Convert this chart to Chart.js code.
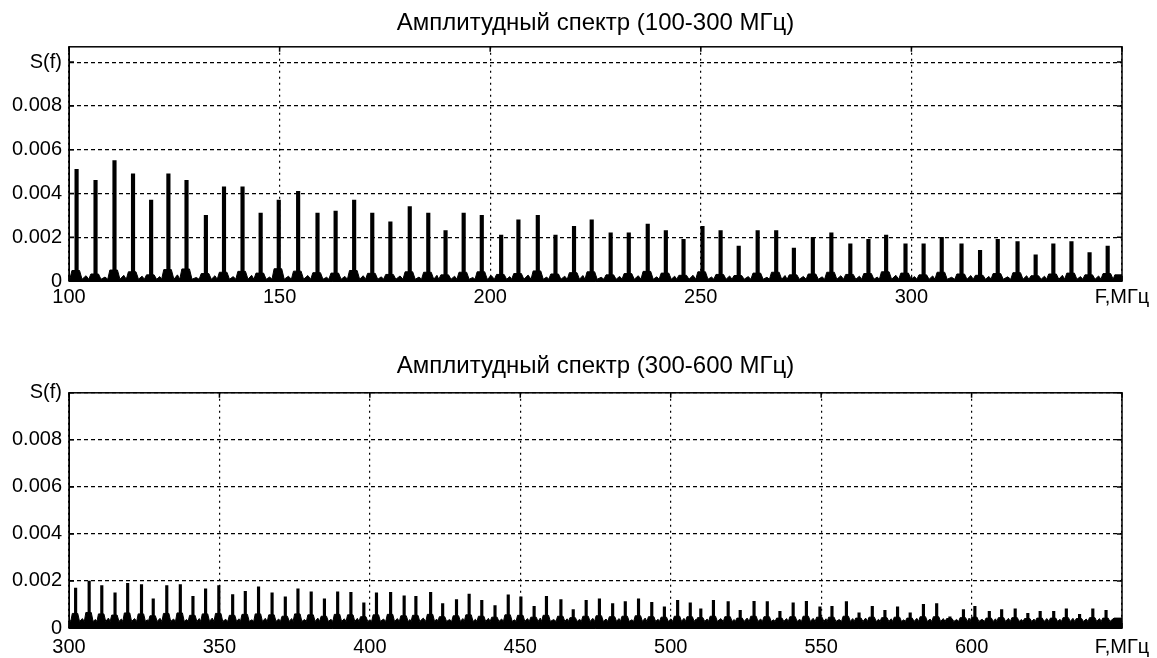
<!DOCTYPE html>
<html>
<head>
<meta charset="utf-8">
<script src="https://cdn.jsdelivr.net/npm/chart.js@4"></script>
<style>
    html, body { margin: 0; padding: 0; background: #fff; }
    .panel { position: absolute; left: 0; width: 1157px; }
    #panelTop { top: 0; height: 320px; }
    #panelBot { top: 320px; height: 338px; }
</style>
</head>
<body>
<div class="panel" id="panelTop"><canvas id="specTop"></canvas></div>
<div class="panel" id="panelBot"><canvas id="specBot"></canvas></div>
<script>
// ---- top panel: 100-350 MHz ----
const topFreq = [101.8, 106.3, 110.8, 115.2, 119.5, 123.6, 127.9, 132.5, 136.8, 141.2,
    145.5, 149.8, 154.4, 159.0, 163.3, 167.7, 172.0, 176.3, 180.9, 185.3,
    189.4, 193.7, 198.0, 202.6, 206.7, 211.3, 215.5, 219.9, 224.1, 228.6,
    232.9, 237.4, 241.7, 245.9, 250.4, 254.7, 259.0, 263.5, 267.9, 272.1,
    276.6, 281.0, 285.5, 289.8, 294.0, 298.6, 302.9, 307.2, 311.9, 316.3,
    320.5, 325.2, 329.5, 333.7, 338.0, 342.3, 346.6];
const topAmp = [0.0051, 0.0046, 0.0055, 0.0049, 0.0037, 0.0049, 0.0046, 0.0030, 0.0043, 0.0043,
    0.0031, 0.0037, 0.0041, 0.0031, 0.0032, 0.0037, 0.0031, 0.0027, 0.0034, 0.0031,
    0.0023, 0.0031, 0.0030, 0.0021, 0.0028, 0.0030, 0.0021, 0.0025, 0.0028, 0.0022,
    0.0022, 0.0026, 0.0023, 0.0019, 0.0025, 0.0023, 0.0016, 0.0023, 0.0023, 0.0015,
    0.0020, 0.0022, 0.0017, 0.0019, 0.0021, 0.0017, 0.0017, 0.0020, 0.0017, 0.0014,
    0.0019, 0.0018, 0.0012, 0.0017, 0.0018, 0.0013, 0.0016];
// noise bump at the foot of every line
const topBase = [0.00048, 0.00032, 0.0005, 0.00042, 0.00028, 0.00052, 0.00055, 0.00034, 0.0004, 0.00044,
    0.00036, 0.00056, 0.00045, 0.00038, 0.00036, 0.00048, 0.00035, 0.0003, 0.00042, 0.0004,
    0.00028, 0.0004, 0.00042, 0.0003, 0.00034, 0.00046, 0.00032, 0.00038, 0.00042, 0.00028,
    0.00034, 0.00044, 0.00036, 0.00026, 0.00042, 0.0003, 0.00025, 0.00036, 0.0004, 0.00028,
    0.00032, 0.0004, 0.0003, 0.00034, 0.00042, 0.00036, 0.00028, 0.0004, 0.00032, 0.00026,
    0.00034, 0.00038, 0.00024, 0.00032, 0.00036, 0.00028, 0.00034];
// noise level between lines
const topGap = [0.00024, 0.00018, 0.00026, 0.00022, 0.0002, 0.00028, 0.00016, 0.00024, 0.0002, 0.00026,
    0.00018, 0.00022, 0.00025, 0.00017, 0.00021, 0.00024, 0.00019, 0.00023, 0.00018, 0.00026,
    0.00022, 0.00016, 0.00024, 0.0002, 0.00027, 0.00018, 0.00022, 0.00025, 0.00017, 0.00021,
    0.00024, 0.00019, 0.00022, 0.00026, 0.00018, 0.00023, 0.0002, 0.00017, 0.00025, 0.00021,
    0.00019, 0.00024, 0.00022, 0.00018, 0.00026, 0.0002, 0.00023, 0.00017, 0.00025, 0.00021,
    0.00019, 0.00024, 0.00022, 0.00026, 0.0002, 0.00023, 0.00028];
const topLow = 0.00008;
const topXTicks = [100, 150, 200, 250, 300, 350];
const topXLabels = ['100', '150', '200', '250', '300', 'F,МГц'];

// ---- bottom panel: 300-650 MHz ----
const botFreq = [302.2, 306.7, 310.9, 315.3, 319.5, 324.1, 328.0, 332.5, 337.0, 341.2,
    345.4, 349.8, 354.4, 358.6, 363.0, 367.5, 371.9, 376.1, 380.5, 384.9,
    389.3, 393.7, 398.0, 402.2, 406.9, 411.4, 415.3, 420.2, 424.2, 428.8,
    433.0, 437.2, 441.6, 446.0, 450.2, 454.6, 458.7, 463.5, 467.6, 471.9,
    476.3, 480.7, 484.9, 489.3, 493.7, 497.9, 502.3, 506.5, 510.0, 514.2,
    519.1, 523.1, 527.7, 532.1, 536.3, 540.7, 545.1, 549.6, 553.6, 558.4,
    562.6, 567.0, 571.2, 575.4, 579.6, 584.0, 588.4, 592.8, 597.3, 601.1,
    605.9, 610.0, 614.5, 618.7, 622.8, 627.3, 631.5, 635.9, 640.3, 644.7];
const botAmp = [0.0017, 0.0020, 0.0018, 0.0015, 0.0019, 0.00185, 0.00124, 0.0018, 0.00185, 0.00135,
    0.00167, 0.0018, 0.00142, 0.00156, 0.00175, 0.0015, 0.00132, 0.00167, 0.00154, 0.00124,
    0.00154, 0.00152, 0.00107, 0.0015, 0.00152, 0.00137, 0.00135, 0.00152, 0.00104, 0.00121,
    0.00144, 0.00118, 0.00095, 0.00141, 0.00132, 0.00092, 0.00135, 0.00121, 0.00078, 0.00118,
    0.00124, 0.00104, 0.00112, 0.00124, 0.00109, 0.0009, 0.00118, 0.00107, 0.00081, 0.00118,
    0.00112, 0.00075, 0.00113, 0.00112, 0.00071, 0.00107, 0.00113, 0.0009, 0.00092, 0.00112,
    0.00064, 0.00092, 0.00075, 0.0009, 0.00064, 0.00101, 0.00104, 0.00047, 0.00078, 0.00092,
    0.00071, 0.00078, 0.00081, 0.00062, 0.00071, 0.00071, 0.00081, 0.00058, 0.00082, 0.00075];
const botBase = [0.00062, 0.00066, 0.0006, 0.00055, 0.00064, 0.0006, 0.00052, 0.00062, 0.00064, 0.00054,
    0.0006, 0.00062, 0.00054, 0.00058, 0.0006, 0.00056, 0.0005, 0.0006, 0.00056, 0.0005,
    0.00058, 0.00056, 0.00048, 0.00056, 0.00058, 0.00052, 0.00054, 0.00058, 0.00048, 0.00052,
    0.00056, 0.0005, 0.00046, 0.00056, 0.00054, 0.00046, 0.00054, 0.0005, 0.00044, 0.0005,
    0.00052, 0.00048, 0.0005, 0.00052, 0.00048, 0.00046, 0.0005, 0.00048, 0.00044, 0.0005,
    0.00048, 0.00042, 0.0005, 0.00048, 0.00042, 0.00048, 0.0005, 0.00046, 0.00046, 0.0005,
    0.00042, 0.00046, 0.00044, 0.00046, 0.00042, 0.00048, 0.00048, 0.0004, 0.00044, 0.00046,
    0.00042, 0.00044, 0.00044, 0.0004, 0.00042, 0.00042, 0.00044, 0.0004, 0.00044, 0.00042];
const botGap = [0.0004, 0.00036, 0.00042, 0.00038, 0.0004, 0.00035, 0.00041, 0.00038, 0.00036, 0.0004,
    0.00042, 0.00037, 0.00039, 0.00035, 0.00041, 0.00038, 0.0004, 0.00036, 0.00042, 0.00037,
    0.00039, 0.00041, 0.00035, 0.00038, 0.0004, 0.00036, 0.00042, 0.00038, 0.00036, 0.0004,
    0.00037, 0.00041, 0.00038, 0.00035, 0.0004, 0.00042, 0.00036, 0.00039, 0.00037, 0.00041,
    0.00038, 0.0004, 0.00035, 0.00042, 0.00037, 0.00039, 0.00041, 0.00036, 0.00038, 0.0004,
    0.00036, 0.00042, 0.00038, 0.00035, 0.0004, 0.00037, 0.00041, 0.00039, 0.00036, 0.0004,
    0.00042, 0.00037, 0.00039, 0.00035, 0.00041, 0.00038, 0.0004, 0.00036, 0.00042, 0.00037,
    0.00039, 0.00041, 0.00036, 0.00038, 0.0004, 0.00037, 0.00041, 0.00038, 0.0004, 0.00042];
const botLow = 0.00028;
const botXTicks = [300, 350, 400, 450, 500, 550, 600, 650];
const botXLabels = ['300', '350', '400', '450', '500', '550', '600', 'F,МГц'];

const yTicks = [0, 0.002, 0.004, 0.006, 0.008, 0.01];
const yLabels = ['0', '0.002', '0.004', '0.006', '0.008', 'S(f)'];

Chart.defaults.font.family = "'Liberation Sans', Arial, sans-serif";
Chart.defaults.color = '#000';

// noise floor polyline: bump under every line, small bump in the middle of each gap
function floorPoints(freq, base, gap, low, xMin, xMax) {
    const pts = [{x: xMin, y: gap[0]}];
    for (let i = 0; i < freq.length; i++) {
        const f = freq[i];
        const next = i + 1 < freq.length ? freq[i + 1] : xMax;
        pts.push({x: f - 1.6, y: low});
        pts.push({x: f - 1.1, y: base[i]});
        pts.push({x: f + 0.7, y: base[i]});
        pts.push({x: f + 1.3, y: low});
        pts.push({x: (f + next) / 2, y: gap[i]});
    }
    pts.push({x: xMax, y: gap[gap.length - 1]});
    return pts;
}

// MATLAB-like frame with inward tick marks
const framePlugin = {
    id: 'frame',
    afterDraw(chart) {
        const {ctx, chartArea: a, scales} = chart;
        ctx.save();
        ctx.strokeStyle = '#000';
        ctx.lineWidth = 1.5;
        ctx.setLineDash([]);
        ctx.strokeRect(a.left, a.top, a.right - a.left, a.bottom - a.top);
        ctx.beginPath();
        scales.x.ticks.forEach(t => {
            const px = scales.x.getPixelForValue(t.value);
            ctx.moveTo(px, a.bottom); ctx.lineTo(px, a.bottom - 5);
            ctx.moveTo(px, a.top); ctx.lineTo(px, a.top + 5);
        });
        scales.y.ticks.forEach(t => {
            const py = scales.y.getPixelForValue(t.value);
            ctx.moveTo(a.left, py); ctx.lineTo(a.left + 5, py);
            ctx.moveTo(a.right, py); ctx.lineTo(a.right - 5, py);
        });
        ctx.stroke();
        ctx.restore();
    }
};

function makeSpectrum(canvasId, cfg) {
    const spikes = cfg.freq.map((f, i) => ({x: f, y: cfg.amp[i]}));
    const floor = floorPoints(cfg.freq, cfg.base, cfg.gap, cfg.low, cfg.xTicks[0], cfg.xTicks[cfg.xTicks.length - 1]);

    return new Chart(document.getElementById(canvasId), {
        type: 'bar',
        data: {
            datasets: [
                {
                    type: 'line',
                    data: floor,
                    borderColor: '#000',
                    backgroundColor: '#000',
                    borderWidth: 1,
                    fill: 'origin',
                    pointRadius: 0,
                    tension: 0
                },
                {
                    type: 'bar',
                    data: spikes,
                    backgroundColor: '#000',
                    borderWidth: 0,
                    barThickness: cfg.barW,
                    grouped: false
                }
            ]
        },
        options: {
            responsive: true,
            maintainAspectRatio: false,
            animation: false,
            layout: {
                padding: {left: 0, right: 35, top: 0, bottom: 0}
            },
            plugins: {
                legend: {display: false},
                tooltip: {enabled: false},
                title: {
                    display: true,
                    text: cfg.title,
                    fullSize: false,
                    color: '#000',
                    font: {size: 24, weight: 'normal'},
                    padding: cfg.titlePad
                }
            },
            scales: {
                x: {
                    type: 'linear',
                    offset: false,
                    min: cfg.xTicks[0],
                    max: cfg.xTicks[cfg.xTicks.length - 1],
                    afterBuildTicks: s => { s.ticks = cfg.xTicks.map(v => ({value: v})); },
                    afterFit: s => { s.height = cfg.axisH; },
                    ticks: {
                        autoSkip: false,
                        maxRotation: 0,
                        padding: cfg.tickPad,
                        font: {size: 20},
                        callback: (v, i) => cfg.xLabels[i]
                    },
                    grid: {color: '#000', lineWidth: 1.2, drawTicks: false, offset: false},
                    border: {display: true, color: '#000', width: 1, dash: [2, 4]}
                },
                y: {
                    min: 0,
                    max: cfg.yMax,
                    afterBuildTicks: s => { s.ticks = yTicks.map(v => ({value: v})); },
                    afterFit: s => { s.width = 69; },
                    ticks: {
                        padding: 7,
                        font: {size: 20},
                        callback: (v, i) => yLabels[i]
                    },
                    grid: {color: '#000', lineWidth: 1.2, drawTicks: false},
                    border: {display: true, color: '#000', width: 1, dash: [4, 3]}
                }
            }
        },
        plugins: [framePlugin]
    });
}

makeSpectrum('specTop', {
    freq: topFreq, amp: topAmp, base: topBase, gap: topGap, low: topLow,
    xTicks: topXTicks, xLabels: topXLabels, yMax: 0.0107,
    title: 'Амплитудный спектр (100-300 МГц)',
    titlePad: {top: 9, bottom: 9}, tickPad: 4, axisH: 39, barW: 3.5
});

makeSpectrum('specBot', {
    freq: botFreq, amp: botAmp, base: botBase, gap: botGap, low: botLow,
    xTicks: botXTicks, xLabels: botXLabels, yMax: 0.01,
    title: 'Амплитудный спектр (300-600 МГц)',
    titlePad: {top: 32, bottom: 12}, tickPad: 7, axisH: 30, barW: 2.5
});
</script>
</body>
</html>
